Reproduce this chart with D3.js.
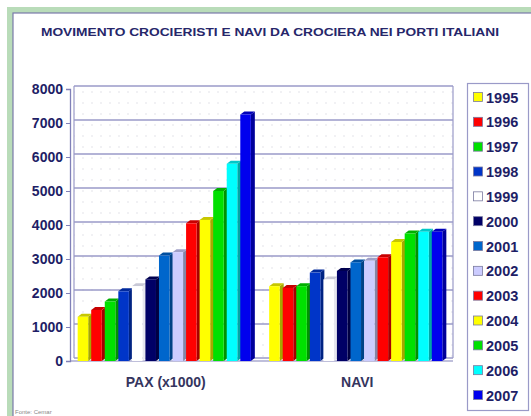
<!DOCTYPE html>
<html>
<head>
<meta charset="utf-8">
<script src="https://cdn.jsdelivr.net/npm/d3@7"></script>
<style>
  body { margin: 0; background: #fff; }
  svg { display: block; font-family: "Liberation Sans", Arial, sans-serif; }
</style>
</head>
<body>
<div id="chart"></div>
<script>
var width = 531,
    height = 416;

// data
var categories = ["PAX (x1000)", "NAVI"];
var years = ["1995","1996","1997","1998","1999","2000","2001","2002","2003","2004","2005","2006","2007"];
var pax  = [1300, 1500, 1750, 2050, 2200, 2400, 3100, 3200, 4050, 4150, 5000, 5800, 7250];
var navi = [2200, 2150, 2200, 2600, 2400, 2650, 2900, 2950, 3050, 3500, 3750, 3800, 3800];
var yTicks = [0, 1000, 2000, 3000, 4000, 5000, 6000, 7000, 8000];
var colors = ["#ffff00","#ff0000","#00e000","#0035c8","#ffffff","#000066","#0066cc","#ccccff","#ff0000","#ffff00","#00e000","#00ffff","#0000ee"];

var series = [pax, navi];

var svg = d3.select("#chart")
    .append("svg")
    .attr("width", width)
    .attr("height", height);

// frame
svg.append("rect").attr("x", 7).attr("y", 7).attr("width", width).attr("height", height)
    .attr("fill", "#b9dcb9");
svg.append("rect").attr("x", 13).attr("y", 13).attr("width", width).attr("height", height)
    .attr("fill", "#fff").attr("stroke", "#7a7aaa").attr("stroke-width", 1.2);

svg.append("text")
    .attr("x", 270).attr("y", 36)
    .attr("text-anchor", "middle")
    .attr("font-size", 11.5).attr("font-weight", "bold")
    .attr("fill", "#26266a")
    .attr("textLength", 458).attr("lengthAdjust", "spacingAndGlyphs")
    .text("MOVIMENTO CROCIERISTI E NAVI DA CROCIERA NEI PORTI ITALIANI");

var y = d3.scaleLinear().domain([0, 8000]).range([361, 89]);
var x0 = d3.scaleBand().domain(categories).range([70, 453]).paddingInner(0.08).paddingOuter(0.04);
var x1 = d3.scaleBand().domain(years).range([0, x0.bandwidth()]);

var depthX = 4, depthY = 3;

// dotted background
var defs = svg.append("defs");
var pat = defs.append("pattern").attr("id", "dots").attr("patternUnits", "userSpaceOnUse")
    .attr("width", 9).attr("height", 11);
pat.append("circle").attr("cx", 2).attr("cy", 4).attr("r", 0.7).attr("fill", "#d8d8e0");
svg.append("rect").attr("x", 74).attr("y", y(8000) - depthY).attr("width", 453 - 74)
    .attr("height", y(0) - y(8000)).attr("fill", "url(#dots)");

// back wall grid
svg.selectAll(".grid")
    .data(yTicks)
    .enter().append("line")
    .attr("class", "grid")
    .attr("x1", 70 + depthX).attr("x2", 453)
    .attr("y1", function(d) { return y(d) - depthY; })
    .attr("y2", function(d) { return y(d) - depthY; })
    .attr("stroke", "#9a9ac8").attr("stroke-width", 1.3);

svg.append("line").attr("x1", 70 + depthX).attr("x2", 70 + depthX)
    .attr("y1", y(8000) - depthY).attr("y2", y(0) - depthY)
    .attr("stroke", "#9a9ac8").attr("stroke-width", 1.2);
svg.append("line").attr("x1", 453).attr("x2", 453)
    .attr("y1", y(8000) - depthY).attr("y2", y(0) - depthY)
    .attr("stroke", "#9a9ac8").attr("stroke-width", 1.2);

// y axis
var yAxis = svg.append("g").attr("transform", "translate(70,0)")
    .call(d3.axisLeft(y).tickValues(yTicks).tickSize(4).tickFormat(d3.format("d")));
yAxis.select(".domain").attr("stroke", "#8080b8").attr("stroke-width", 1.3);
yAxis.selectAll(".tick line").attr("stroke", "#8080b8");
yAxis.selectAll(".tick text")
    .attr("x", -7)
    .attr("font-size", 14).attr("font-weight", "bold")
    .attr("fill", "#1e1e66")
    .attr("font-family", "Liberation Sans, Arial, sans-serif");

// floor
svg.append("line").attr("x1", 70).attr("x2", 453).attr("y1", y(0)).attr("y2", y(0))
    .attr("stroke", "#8080b8").attr("stroke-width", 1.2);

// bars
var groups = svg.selectAll(".group")
    .data(categories)
    .enter().append("g")
    .attr("class", "group")
    .attr("transform", function(d) { return "translate(" + x0(d) + ",0)"; });

groups.each(function(c, ci) {
    var g = d3.select(this);
    var vals = series[ci];
    var w = x1.bandwidth() - depthX + 1;
    years.forEach(function(yr, i) {
        var bx = x1(yr), top = y(vals[i]), base = y(0);
        var col = d3.color(colors[i]);
        var isWhite = colors[i] === "#ffffff";
        var side = isWhite ? "#e6e6ee" : col.darker(1.2);
        var topc = isWhite ? "#c8c8d6" : col.darker(0.7);
        g.append("path")
            .attr("d", "M" + (bx + w) + "," + base + "L" + (bx + w + depthX) + "," + (base - depthY) +
                "L" + (bx + w + depthX) + "," + (top - depthY) + "L" + (bx + w) + "," + top + "Z")
            .attr("fill", side);
        g.append("path")
            .attr("d", "M" + bx + "," + top + "L" + (bx + depthX) + "," + (top - depthY) +
                "L" + (bx + w + depthX) + "," + (top - depthY) + "L" + (bx + w) + "," + top + "Z")
            .attr("fill", topc);
        g.append("rect")
            .attr("x", bx).attr("y", top)
            .attr("width", w).attr("height", base - top)
            .attr("fill", colors[i]);
    });
    g.append("text")
        .attr("x", x0.bandwidth() / 2).attr("y", 387)
        .attr("text-anchor", "middle")
        .attr("font-size", 14).attr("font-weight", "bold")
        .attr("fill", "#35355e")
        .text(c);
});

// legend
var legend = svg.append("g");
legend.append("rect").attr("x", 467.5).attr("y", 83.5).attr("width", 61).attr("height", 327)
    .attr("fill", "#fff").attr("stroke", "#9a9ac8").attr("stroke-width", 1.2);

var ly = d3.scalePoint().domain(years).range([97, 395]);
var items = legend.selectAll(".item")
    .data(years)
    .enter().append("g")
    .attr("class", "item")
    .attr("transform", function(d) { return "translate(0," + ly(d) + ")"; });
items.append("rect")
    .attr("x", 473.5).attr("y", -4.5).attr("width", 9).attr("height", 9)
    .attr("fill", function(d, i) { return colors[i]; })
    .attr("stroke", "#7a7aa0").attr("stroke-width", 0.8);
items.append("text")
    .attr("x", 486).attr("y", 5.5)
    .attr("font-size", 14.5).attr("font-weight", "bold")
    .attr("fill", "#1e1e66")
    .text(function(d) { return d; });

svg.append("text")
    .attr("x", 15).attr("y", 414)
    .attr("font-size", 6).attr("fill", "#888")
    .text("Fonte: Cemar");
</script>
</body>
</html>
